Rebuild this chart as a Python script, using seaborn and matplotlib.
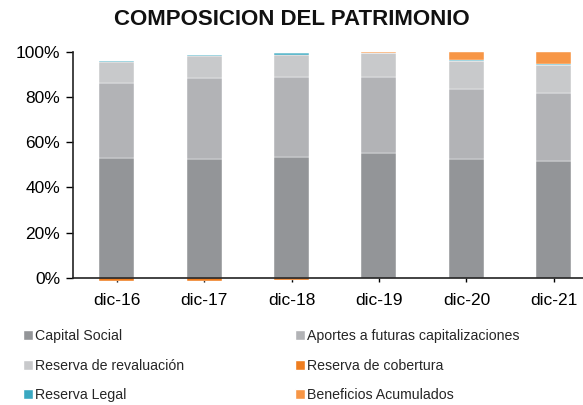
import numpy as np
import seaborn as sns
import matplotlib
matplotlib.use("Agg")
import matplotlib.pyplot as plt
from matplotlib.patches import Patch
from matplotlib.ticker import PercentFormatter

periods = ["dic-16", "dic-17", "dic-18", "dic-19", "dic-20", "dic-21"]

# shares of total equity (%)
capital_social = [53.1, 52.7, 53.5, 55.3, 52.8, 51.8]
aportes = [32.9, 35.8, 35.4, 33.6, 30.8, 30.1]
reserva_revaluacion = [9.6, 9.7, 9.8, 10.4, 12.4, 12.2]
reserva_cobertura = [-1.2, -1.2, -1.0, 0.0, 0.0, 0.0]
reserva_legal = [0.5, 0.5, 0.7, 0.4, 0.6, 0.5]
beneficios = [0.0, 0.0, 0.0, 0.3, 3.4, 5.4]

series = [
    ("Capital Social", capital_social, "#939598"),
    ("Aportes a futuras capitalizaciones", aportes, "#b2b3b6"),
    ("Reserva de revaluación", reserva_revaluacion, "#c8c9cb"),
    ("Reserva de cobertura", reserva_cobertura, "#ee7d1f"),
    ("Reserva Legal", reserva_legal, "#3aa8c1"),
    ("Beneficios Acumulados", beneficios, "#f79646"),
]

sns.set_theme(style="white")
plt.rcParams["font.family"] = ["Liberation Sans", "DejaVu Sans"]

fig = plt.figure(figsize=(5.83, 4.05), dpi=100)
ax = fig.add_axes([0.125, 0.314, 0.885, 0.558])

x = np.arange(len(periods))
pos_bottom = np.zeros(len(periods))
neg_bottom = np.zeros(len(periods))
for name, vals, color in series:
    v = np.array(vals, dtype=float)
    bottom = np.where(v >= 0, pos_bottom, neg_bottom)
    ax.bar(x, v, width=0.4, bottom=bottom, color=color, edgecolor="white",
           linewidth=0.3, clip_on=False, zorder=2)
    pos_bottom += np.where(v >= 0, v, 0)
    neg_bottom += np.where(v < 0, v, 0)

ax.set_xlim(-0.5, 5.4)
ax.set_ylim(0, 100)
ax.set_yticks(range(0, 101, 20))
ax.yaxis.set_major_formatter(PercentFormatter(decimals=0))
ax.set_xticks(x)
ax.set_xticklabels(periods)
ax.tick_params(axis="both", labelsize=12.5, colors="black", width=1,
               direction="out", bottom=True, left=True)
ax.tick_params(axis="y", length=5, pad=4)
ax.tick_params(axis="x", length=3, pad=8)
for s in ["top", "right"]:
    ax.spines[s].set_visible(False)
for s in ["left", "bottom"]:
    ax.spines[s].set_color("#222222")
    ax.spines[s].set_linewidth(1.2)
ax.spines["bottom"].set_zorder(3)

fig.text(0.5, 0.953, "COMPOSICION DEL PATRIMONIO", ha="center", va="center",
         fontsize=16, fontweight="bold", color="#111111")

handles = [Patch(facecolor=c, label=n) for n, _, c in series]
order = [0, 2, 4, 1, 3, 5]
fig.legend([handles[i] for i in order], [handles[i].get_label() for i in order],
           ncol=2, loc="lower left", bbox_to_anchor=(0.018, -0.025), frameon=False,
           fontsize=10.2, handlelength=0.7, handleheight=0.7, handletextpad=0.15,
           columnspacing=7.8, labelspacing=1.1)

fig.savefig("out.png", dpi=100)
